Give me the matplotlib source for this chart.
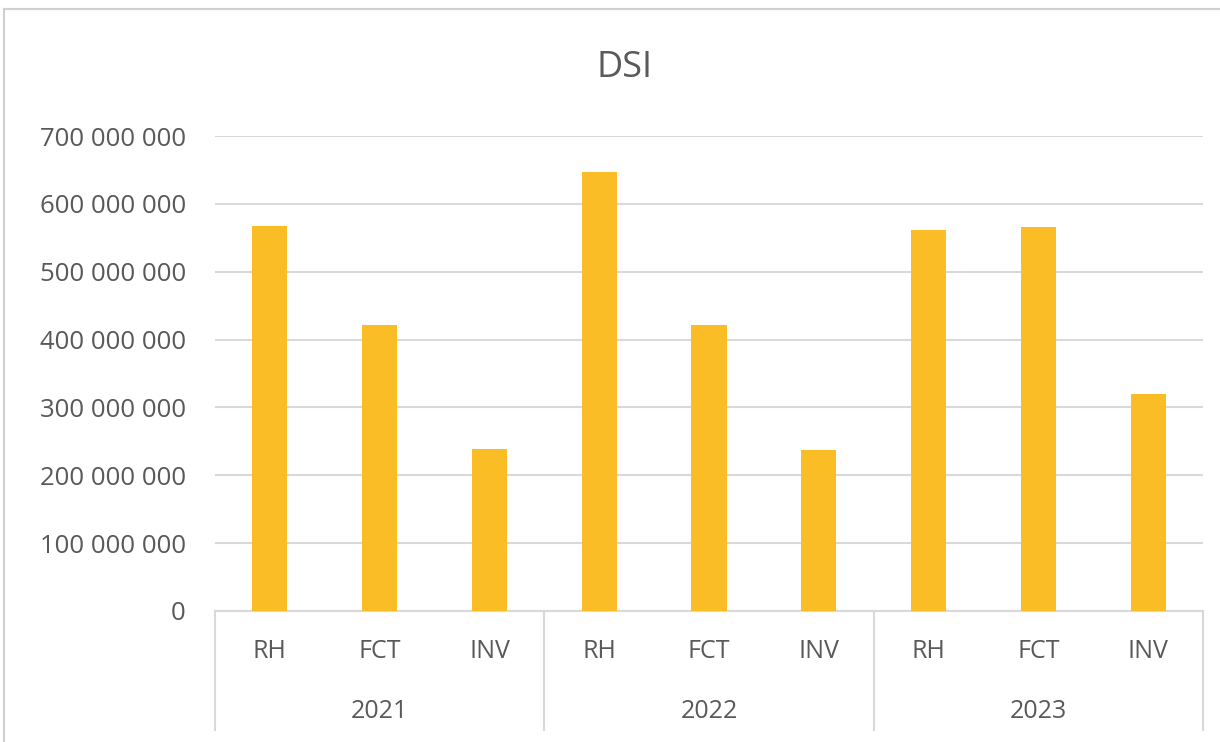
import matplotlib
matplotlib.use("Agg")
import matplotlib.pyplot as plt
from matplotlib.lines import Line2D
from matplotlib.ticker import FuncFormatter

plt.rcParams['font.family'] = ['Open Sans', 'DejaVu Sans']

years = ['2021', '2022', '2023']
cats = ['RH', 'FCT', 'INV']
values = [567e6, 421e6, 239e6,
          647e6, 421e6, 237e6,
          561e6, 566e6, 320e6]

W, H = 1220, 742
fig = plt.figure(figsize=(W/100, H/100), dpi=100)
ax = fig.add_axes([215/W, 1-611/H, (1203-215)/W, (611-136)/H])

n = len(values)
x = list(range(n))
ax.bar(x, values, width=0.32, color='#fbbd26', zorder=3)
ax.set_xlim(-0.5, n-0.5)
ax.set_ylim(0, 700e6)
ax.set_yticks([i*100e6 for i in range(8)])
ax.yaxis.set_major_formatter(FuncFormatter(lambda v, p: f"{int(v):,}".replace(',', ' ')))
ax.tick_params(axis='y', length=0, labelsize=18.5, labelcolor='#595959', pad=21)
ax.set_xticks([])
ax.grid(axis='y', color='#d9d9d9', lw=1.5, zorder=0)
for s in ['top', 'right', 'left']:
    ax.spines[s].set_visible(False)
ax.spines['bottom'].set_color('#d9d9d9')
ax.spines['bottom'].set_linewidth(1.5)

# category labels + year groups
trans = ax.get_xaxis_transform()
for i in range(n):
    ax.text(x[i], -(651-611)/475, cats[i % 3], transform=trans, ha='center', va='center',
            fontsize=18, color='#595959')
for g, yr in enumerate(years):
    ax.text(g*3 + 1, -(711-611)/475, yr, transform=trans, ha='center', va='center',
            fontsize=18, color='#595959')
for g in range(4):
    ax.add_line(Line2D([g*3 - 0.5, g*3 - 0.5], [0, -(730-611)/475], transform=trans,
                       color='#d9d9d9', lw=1.5, clip_on=False))

fig.text(625/W, 1-68/H, 'DSI', ha='center', va='center', fontsize=26, color='#595959')

# outer chart border
fig.add_artist(Line2D([4/W, 1], [1-9/H, 1-9/H], color='#d0d0d0', lw=1.5))
fig.add_artist(Line2D([4/W, 4/W], [0, 1-9/H], color='#d0d0d0', lw=1.5))

fig.savefig('out.png', dpi=100)
